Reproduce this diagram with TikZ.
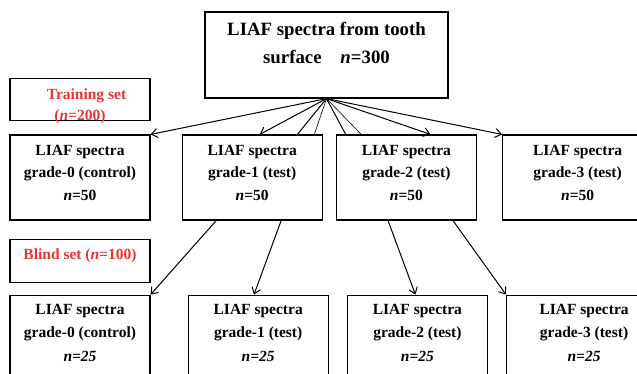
\documentclass[tikz,border=0pt]{standalone}
\usepackage{fontspec}
\setmainfont{Liberation Serif}
\usetikzlibrary{positioning,calc,arrows.meta}
\definecolor{setred}{RGB}{232,52,52}
\tikzstyle{block} = [draw, line width=1.2pt, rectangle, minimum width=140pt, minimum height=85pt, inner ysep=0pt, text height=65pt, text depth=20pt, align=center, font=\fontsize{15.5}{22.5}\selectfont\bfseries]
\tikzstyle{lowblock} = [block, text height=66pt, text depth=19pt, font=\fontsize{15.5}{23.5}\selectfont\bfseries]
\tikzstyle{setbox} = [draw, line width=1.2pt, rectangle, minimum width=140pt, inner ysep=0pt, align=center, text=setred, font=\fontsize{15.5}{21}\selectfont\bfseries]
\tikzstyle{arrow} = [line width=1pt,->,>={Straight Barb[length=6pt,width=9pt]}]
\tikzstyle{thinline} = [line width=0.6pt]

\begin{document}
\begin{tikzpicture}[x=1pt,y=-1pt]
    \clip (0,0) rectangle (637,373);
    \useasboundingbox (0,0) rectangle (637,373);

    \node[block, minimum width=243pt, minimum height=86pt, text height=51pt, text depth=35pt, font=\fontsize{18.8}{28}\selectfont\bfseries] (top) at (326.5,55) {LIAF spectra from tooth\\surface\quad \textit{n}=300};

    \node[block                                 ] (A) at (80,177.5) {LIAF spectra\\grade-0 (control)\\\textit{n}=50};
    \node[block, right=31pt of A                ] (B) {LIAF spectra\\grade-1 (test)\\\textit{n}=50};
    \node[block, right=13pt of B                ] (C) {LIAF spectra\\grade-2 (test)\\\textit{n}=50};
    \node[block, right=25pt of C, minimum width=150pt] (D) {LIAF spectra\\grade-3 (test)\\\textit{n}=50};

    \node[setbox, minimum height=42pt, text height=42pt, text depth=0pt, above=13pt of A] (train) {\hspace*{13pt}Training set\\(\textit{n}=200)};
    \node[setbox, minimum height=43pt, text height=20pt, text depth=23pt, below=18pt of A] (blind) {Blind set (\textit{n}=100)};

    \node[lowblock, below=74pt of A                    ] (E) {LIAF spectra\\grade-0 (control)\\\textit{n=25}};
    \node[lowblock, right=37pt of E                    ] (F) {LIAF spectra\\grade-1 (test)\\\textit{n=25}};
    \node[lowblock, right=18pt of F                    ] (G) {LIAF spectra\\grade-2 (test)\\\textit{n=25}};
    \node[lowblock, right=18pt of G, minimum width=155pt] (H) {LIAF spectra\\grade-3 (test)\\\textit{n=25}};

    % from the whole set to the four grades
    \draw[arrow]     (top.south) -- (A.north east);
    \draw[arrow]     (top.south) -- ($(B.north west)!.554!(B.north east)$);
    \draw[line width=1pt] (top.south) -- ($(B.north west)!.82!(B.north east)$);
    \draw[thinline]  (top.south) -- ($(B.north west)!.94!(B.north east)$);
    \draw[line width=1pt] (top.south) -- ($(C.north west)!.07!(C.north east)$);
    \draw[thinline]  (top.south) -- ($(C.north west)!.18!(C.north east)$);
    \draw[arrow]     (top.south) -- ($(C.north west)!.67!(C.north east)$);
    \draw[arrow]     (top.south) -- (D.north west);

    % blind set
    \draw[arrow] ($(B.south west)!.245!(B.south east)$) -- (E.north east);
    \draw[arrow] ($(B.south west)!.705!(B.south east)$) -- ($(F.north west)!.47!(F.north east)$);
    \draw[arrow] ($(C.south west)!.37!(C.south east)$)  -- ($(G.north west)!.486!(G.north east)$);
    \draw[arrow] ($(C.south west)!.83!(C.south east)$)  -- (H.north west);

\end{tikzpicture}
\end{document}
